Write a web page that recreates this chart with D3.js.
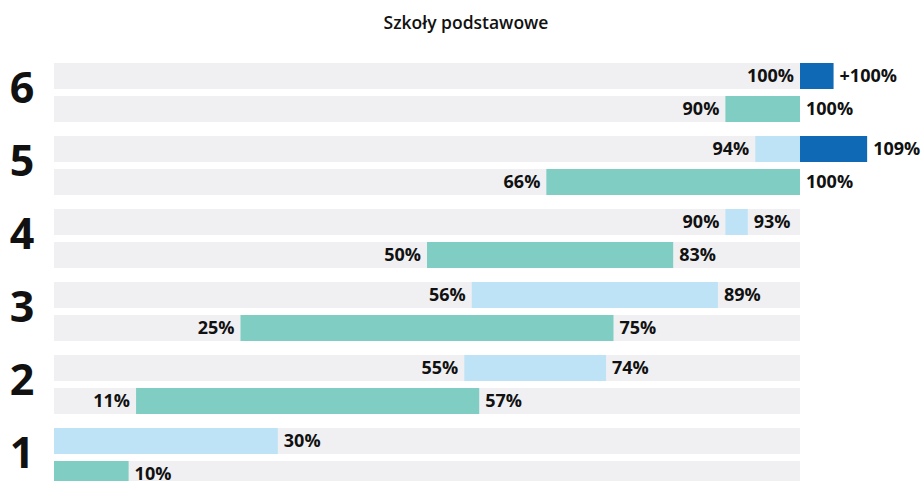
<!DOCTYPE html>
<html>
<head>
<meta charset="utf-8">
<script src="https://cdn.jsdelivr.net/npm/d3@7"></script>
<style>
  body { margin: 0; background: #fff; }
  svg text { font-family: "Open Sans", "Noto Sans", sans-serif; fill: #111; }
</style>
</head>
<body>
<svg id="chart" width="922" height="481"></svg>
<script>
// ── Data ─────────────────────────────────
const grades = ["6", "5", "4", "3", "2", "1"];

// upper bar of each pair (light blue) + dark blue overflow segment
const topStart = [100, 94, 90, 56, 55, 0];
const topEnd   = [100, 100, 93, 89, 74, 30];
const overEnd  = [104.5, 109, null, null, null, null];
const topLeftLabels  = ["100%", "94%", "90%", "56%", "55%", null];
const topRightLabels = ["+100%", "109%", "93%", "89%", "74%", "30%"];

// lower bar of each pair (teal)
const botStart = [90, 66, 50, 25, 11, 0];
const botEnd   = [100, 100, 83, 75, 57, 10];
const botLeftLabels  = ["90%", "66%", "50%", "25%", "11%", null];
const botRightLabels = ["100%", "100%", "83%", "75%", "57%", "10%"];

const title = "Szkoły podstawowe";

// ── Layout ───────────────────────────────
const svg = d3.select('#chart');
const x = d3.scaleLinear().domain([0, 100]).range([54, 800]);
const y = d3.scaleBand().domain(grades).range([63, 63 + 73 * grades.length]);
const barH = 26, lowerOff = 33;

const col = { bg: '#f0f0f3', light: '#bfe3f6', teal: '#7fcdc3', dark: '#1069b5' };

svg.append('text')
  .attr('x', 466).attr('y', 29)
  .attr('text-anchor', 'middle')
  .style('font-size', '17.5px').style('font-weight', 600)
  .text(title);

const rows = svg.selectAll('g.row')
  .data(grades.map((g, i) => ({ g, i })))
  .join('g').attr('class', 'row')
  .attr('transform', d => `translate(0,${y(d.g)})`);

// background tracks
[0, lowerOff].forEach(off => {
  rows.append('rect')
    .attr('x', x(0)).attr('y', off)
    .attr('width', x(100) - x(0)).attr('height', barH)
    .attr('fill', col.bg);
});

// upper light bar
rows.filter(d => topEnd[d.i] > topStart[d.i]).append('rect')
  .attr('x', d => x(topStart[d.i])).attr('y', 0)
  .attr('width', d => x(topEnd[d.i]) - x(topStart[d.i])).attr('height', barH)
  .attr('fill', col.light);

// dark overflow
rows.filter(d => overEnd[d.i] != null).append('rect')
  .attr('x', x(100)).attr('y', 0)
  .attr('width', d => x(overEnd[d.i]) - x(100)).attr('height', barH)
  .attr('fill', col.dark);

// lower teal bar
rows.append('rect')
  .attr('x', d => x(botStart[d.i])).attr('y', lowerOff)
  .attr('width', d => x(botEnd[d.i]) - x(botStart[d.i])).attr('height', barH)
  .attr('fill', col.teal);

// value labels
const lab = (sel, off, xf, anchor, tf) => sel.append('text')
  .attr('x', xf).attr('y', off + barH / 2)
  .attr('dy', '0.36em')
  .attr('text-anchor', anchor)
  .style('font-size', '18px').style('font-weight', 700)
  .text(tf);

lab(rows.filter(d => topLeftLabels[d.i]), 0,
  d => x(topStart[d.i]) - 6, 'end', d => topLeftLabels[d.i]);
lab(rows, 0,
  d => x(overEnd[d.i] != null ? overEnd[d.i] : topEnd[d.i]) + 6, 'start', d => topRightLabels[d.i]);
lab(rows.filter(d => botLeftLabels[d.i]), lowerOff,
  d => x(botStart[d.i]) - 6, 'end', d => botLeftLabels[d.i]);
lab(rows, lowerOff,
  d => x(botEnd[d.i]) + 6, 'start', d => botRightLabels[d.i]);

// grade numbers
rows.append('text')
  .attr('x', 22).attr('y', 40)
  .attr('text-anchor', 'middle')
  .style('font-size', '43px').style('font-weight', 700)
  .text(d => d.g);
</script>
</body>
</html>
